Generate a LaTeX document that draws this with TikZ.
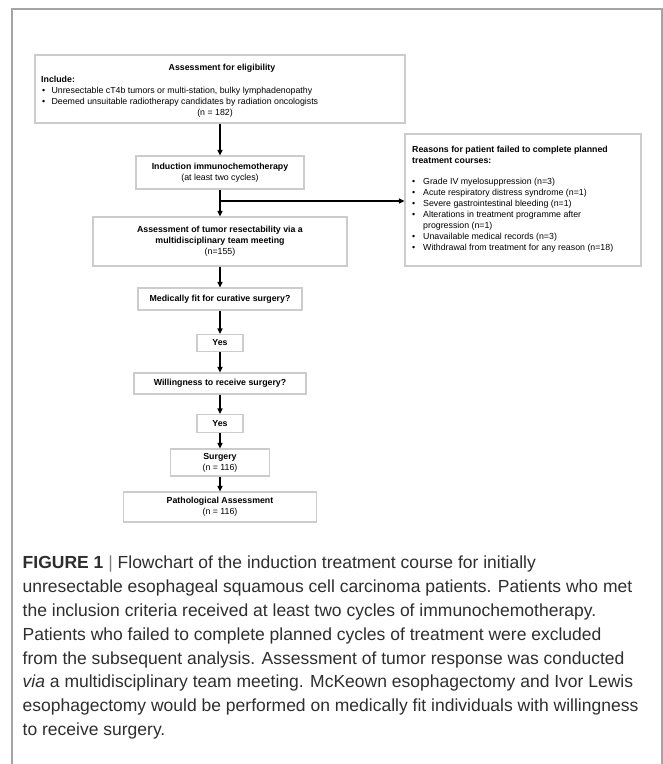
\documentclass[tikz,border=0pt]{standalone}
\usepackage{fontspec}
\setmainfont{Liberation Sans}
\usetikzlibrary{arrows.meta}
\definecolor{boxgray}{HTML}{CCCCCC}
\definecolor{framegray}{HTML}{A4A4A4}
\definecolor{captext}{HTML}{2E2E2E}
\begin{document}
\begin{tikzpicture}[x=1pt,y=-1pt,
  box/.style={draw=boxgray, line width=1.1pt, inner sep=0pt, fill=white, align=center,
              font=\fontsize{8.8}{11}\selectfont},
  txt/.style={inner sep=0pt, font=\fontsize{8.8}{11}\selectfont},
  flow/.style={line width=1.7pt, -{Triangle[length=5.5pt,width=5pt]}},
]
\useasboundingbox (0,0) rectangle (663,764);
% outer frame
\draw[framegray, line width=1.5pt] (12,764) -- (12,9) -- (662,9) -- (662,764);

% eligibility box
\node[box, minimum width=370pt, minimum height=68pt] (elig) at (220,89) {};
\node[txt, font=\fontsize{8.8}{11}\selectfont\bfseries] (eligt) at (222,68) {Assessment for eligibility};
\node[txt, anchor=west, font=\fontsize{8.8}{11}\selectfont\bfseries] (incl) at (41,79.5) {Include:};
\node[txt, anchor=west] (eb1) at (42,91.5) {•\hspace{6.3pt}Unresectable cT4b tumors or multi-station, bulky lymphadenopathy};
\node[txt, anchor=west] (eb2) at (42,102.5) {•\hspace{6.3pt}Deemed unsuitable radiotherapy candidates by radiation oncologists};
\node[txt] (en) at (215,113) {(n = 182)};

% induction
\node[box, minimum width=168pt, minimum height=33pt] (ind) at (220,172.5)
  {\textbf{Induction immunochemotherapy}\\(at least two cycles)};

% assessment of resectability
\node[box, minimum width=254pt, minimum height=49pt] (ass) at (220,241.5)
  {\textbf{Assessment of tumor resectability via a}\\\textbf{multidisciplinary team meeting}\\(n=155)};

% reasons box
\node[box, minimum width=236pt, minimum height=132pt] (rea) at (523,200) {};
\node[txt, anchor=north west, align=left] (reat) at (412,145.5)
  {\textbf{Reasons for patient failed to complete planned}\\
   \textbf{treatment courses:}\\[10pt]
   \makebox[11pt][l]{•}Grade IV myelosuppression (n=3)\\
   \makebox[11pt][l]{•}Acute respiratory distress syndrome (n=1)\\
   \makebox[11pt][l]{•}Severe gastrointestinal bleeding (n=1)\\
   \makebox[11pt][l]{•}Alterations in treatment programme after\\
   \makebox[11pt][l]{}progression (n=1)\\
   \makebox[11pt][l]{•}Unavailable medical records (n=3)\\
   \makebox[11pt][l]{•}Withdrawal from treatment for any reason (n=18)};

% lower chain
\node[box, minimum width=164pt, minimum height=22pt] (fit) at (220,299)
  {\textbf{Medically fit for curative surgery?}};
\node[box, minimum width=46pt, minimum height=17pt] (yes1) at (220,343)
  {\textbf{Yes}};
\node[box, minimum width=172pt, minimum height=21pt] (will) at (220,383.5)
  {\textbf{Willingness to receive surgery?}};
\node[box, minimum width=46pt, minimum height=18pt] (yes2) at (220,423.5)
  {\textbf{Yes}};
\node[box, minimum width=99pt, minimum height=27pt] (surg) at (220,462.5)
  {\textbf{Surgery}\\(n = 116)};
\node[box, minimum width=193pt, minimum height=30pt] (path) at (220,507)
  {\textbf{Pathological Assessment}\\(n = 116)};

% connectors
\coordinate (br) at (220,201);
\draw[flow] (elig.south) -- (ind.north);
\draw[flow] (ind.south) -- (ass.north);
\draw[flow] (br) -- (rea.west |- br);
\draw[flow] (ass.south) -- (fit.north);
\draw[flow] (fit.south) -- (yes1.north);
\draw[flow] (yes1.south) -- (will.north);
\draw[flow] (will.south) -- (yes2.north);
\draw[flow] (yes2.south) -- (surg.north);
\draw[flow] (surg.south) -- (path.north);

% caption
\node[inner sep=0pt, anchor=north west, align=left, text=captext,
      font=\fontsize{17.5}{23.8}\selectfont] (cap) at (22.5,556)
  {\textbf{FIGURE 1} {\color{gray}|} Flowchart of the induction treatment course for initially\\
   unresectable esophageal squamous cell carcinoma patients. Patients who met\\
   the inclusion criteria received at least two cycles of immunochemotherapy.\\
   Patients who failed to complete planned cycles of treatment were excluded\\
   from the subsequent analysis. Assessment of tumor response was conducted\\
   \textit{via} a multidisciplinary team meeting. McKeown esophagectomy and Ivor Lewis\\
   esophagectomy would be performed on medically fit individuals with willingness\\
   to receive surgery.};
\end{tikzpicture}
\end{document}
